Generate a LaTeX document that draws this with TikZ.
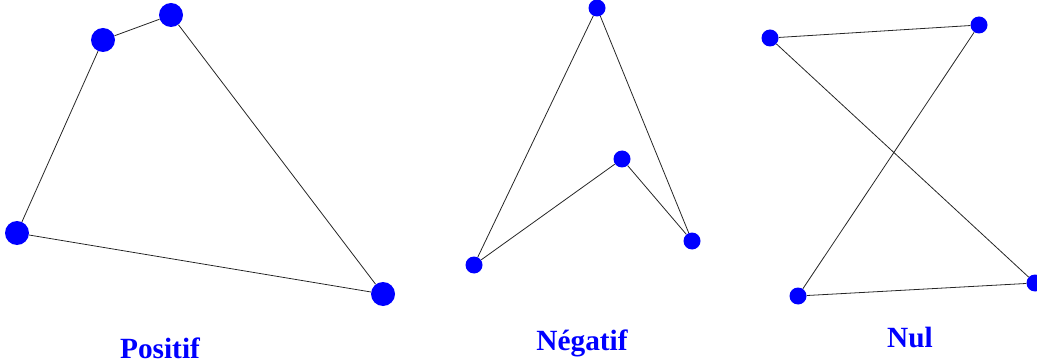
\documentclass[tikz,border=0pt]{standalone}
\usepackage{fontspec}
\setmainfont{Liberation Serif}
\begin{document}
\begin{tikzpicture}[x=0.75pt, y=-0.75pt,
  bigdot/.style={circle, fill=blue, inner sep=0pt, minimum size=18pt},
  dot/.style={circle, fill=blue, inner sep=0pt, minimum size=12.75pt},
  link/.style={black!85, line width=0.6pt},
  lab/.style={anchor=base, text=blue, font=\fontsize{22}{26}\selectfont\bfseries}]
  \useasboundingbox (0,0) rectangle (1037,363);
  % Positif
  \node[bigdot] (p1) at (103,40) {};
  \node[bigdot] (p2) at (171,15) {};
  \node[bigdot] (p3) at (383,294) {};
  \node[bigdot] (p4) at (17,233) {};
  \draw[link] (p1) -- (p2) -- (p3) -- (p4) -- (p1);
  \node[lab] (pos) at (160,358) {Positif};
  % Negatif
  \node[dot] (n1) at (597,8) {};
  \node[dot] (n2) at (474,265) {};
  \node[dot] (n3) at (622,159) {};
  \node[dot] (n4) at (692,241) {};
  \draw[link] (n1) -- (n2) -- (n3) -- (n4) -- (n1);
  \node[lab] (neg) at (582,350) {Négatif};
  % Nul
  \node[dot] (z1) at (770,38) {};
  \node[dot] (z2) at (979,25) {};
  \node[dot] (z3) at (798,296) {};
  \node[dot] (z4) at (1035,283) {};
  \draw[link] (z1) -- (z2) -- (z3) -- (z4) -- (z1);
  \node[lab] (nul) at (910,347) {Nul};
\end{tikzpicture}
\end{document}
